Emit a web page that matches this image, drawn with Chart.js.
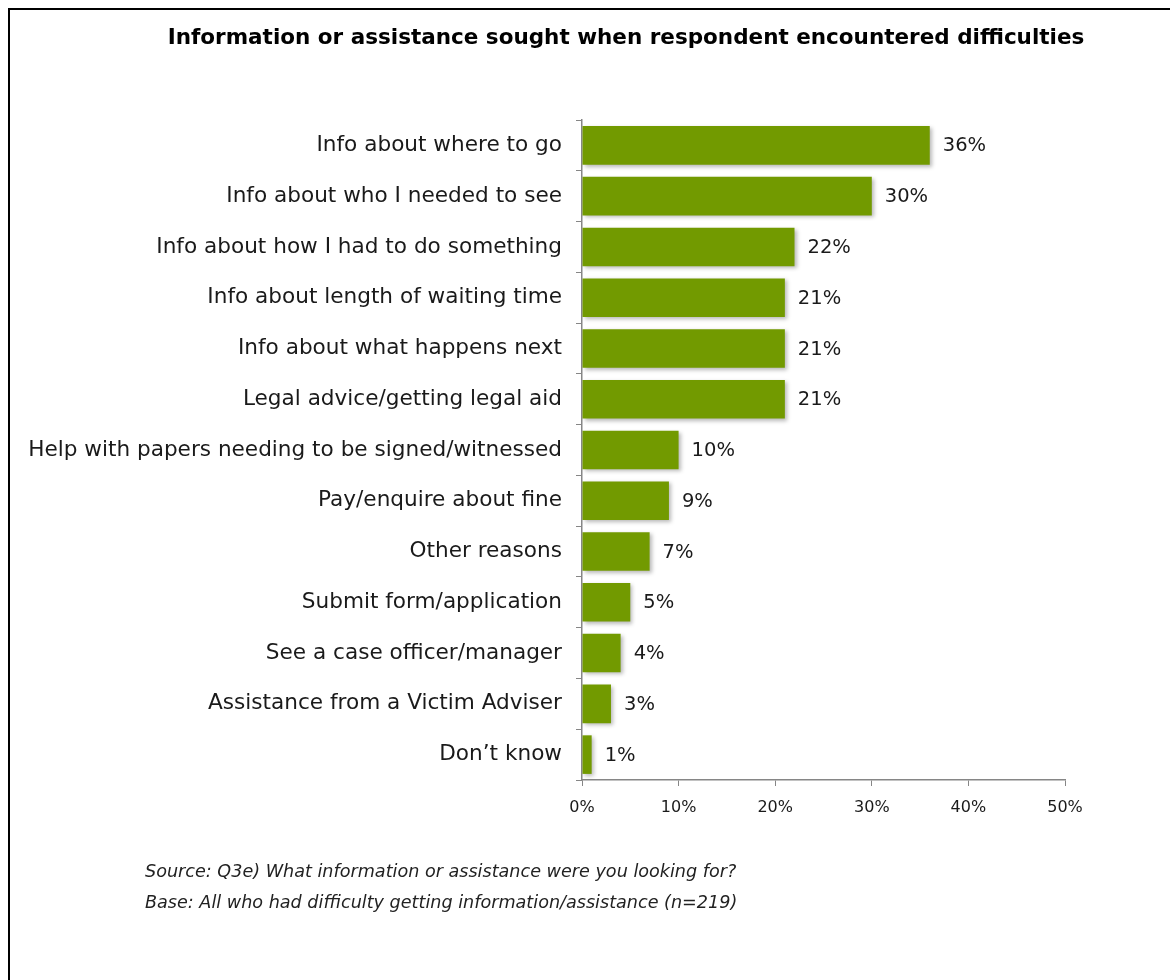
<!DOCTYPE html>
<html>
<head>
<meta charset="utf-8">
<script src="https://cdn.jsdelivr.net/npm/chart.js@4.4.1/dist/chart.umd.min.js"></script>
<style>
  html, body { margin: 0; padding: 0; background: #fff; }
  #page { position: relative; width: 1170px; height: 980px; overflow: hidden; background: #fff; }
  #frame { position: absolute; left: 8px; top: 8px; right: -10px; bottom: -10px; border-top: 2px solid #000; border-left: 2px solid #000; }
  #title { position: absolute; left: 126px; width: 1000px; top: 24px; text-align: center;
           font-family: "DejaVu Sans", sans-serif; font-weight: bold; font-size: 21.5px; color: #000; }
  .note { position: absolute; left: 145px; font-family: "DejaVu Sans", sans-serif; font-style: italic; font-size: 17.6px; color: #222; }
  #chartBox { position: absolute; left: 0; top: 0; width: 1170px; height: 980px; }
</style>
</head>
<body>
<div id="page">
  <div id="chartBox"><canvas id="c" width="1170" height="980"></canvas></div>
  <div id="frame"></div>
  <div id="title">Information or assistance sought when respondent encountered difficulties</div>
  <div class="note" style="top:861px">Source: Q3e) What information or assistance were you looking for?</div>
  <div class="note" style="top:892px">Base: All who had difficulty getting information/assistance (n=219)</div>
</div>
<script>
// Categories, top to bottom
const categories = [
  "Info about where to go",
  "Info about who I needed to see",
  "Info about how I had to do something",
  "Info about length of waiting time",
  "Info about what happens next",
  "Legal advice/getting legal aid",
  "Help with papers needing to be signed/witnessed",
  "Pay/enquire about fine",
  "Other reasons",
  "Submit form/application",
  "See a case officer/manager",
  "Assistance from a Victim Adviser",
  "Don\u2019t know"
];
// Share of respondents (%)
const percentages = [36, 30, 22, 21, 21, 21, 10, 9, 7, 5, 4, 3, 1];
// X axis tick values (%)
const xTicks = [0, 10, 20, 30, 40, 50];

const labelFont = '"DejaVu Sans", sans-serif';
const axisGray = '#868686';

// Soft drop shadow behind the bars
const barShadow = {
  id: 'barShadow',
  beforeDatasetDraw(chart) {
    const ctx = chart.ctx;
    ctx.save();
    ctx.shadowColor = 'rgba(0,0,0,0.28)';
    ctx.shadowBlur = 4;
    ctx.shadowOffsetX = 2;
    ctx.shadowOffsetY = 2;
  },
  afterDatasetDraw(chart) {
    chart.ctx.restore();
  }
};

// Value labels to the right of each bar
const valueLabels = {
  id: 'valueLabels',
  afterDatasetsDraw(chart) {
    const ctx = chart.ctx;
    const meta = chart.getDatasetMeta(0);
    ctx.save();
    ctx.font = '19.5px ' + labelFont;
    ctx.fillStyle = '#1a1a1a';
    ctx.textAlign = 'left';
    ctx.textBaseline = 'middle';
    meta.data.forEach((bar, i) => {
      ctx.fillText(percentages[i] + '%', bar.x + 13, bar.y + 1);
    });
    ctx.restore();
  }
};

new Chart(document.getElementById('c'), {
  type: 'bar',
  data: {
    labels: categories,
    datasets: [{
      data: percentages,
      backgroundColor: '#729a00',
      borderWidth: 0,
      barPercentage: 0.76,
      categoryPercentage: 1.0
    }]
  },
  options: {
    indexAxis: 'y',
    responsive: false,
    animation: false,
    devicePixelRatio: 1,
    layout: { padding: { top: 120, right: 105, bottom: 140, left: 0 } },
    plugins: { legend: { display: false }, tooltip: { enabled: false } },
    scales: {
      x: {
        min: 0, max: 50,
        afterBuildTicks(scale) { scale.ticks = xTicks.map(v => ({ value: v })); },
        afterFit(scale) { scale.height = 60; },
        grid: { drawOnChartArea: false, drawTicks: true, tickLength: 6, color: axisGray },
        border: { color: axisGray, width: 1.5 },
        ticks: {
          padding: 12,
          color: '#1a1a1a',
          font: { family: labelFont, size: 16 },
          callback: v => v + '%'
        }
      },
      y: {
        afterFit(scale) { scale.width = 582; },
        grid: { drawOnChartArea: false, drawTicks: true, tickLength: 6, color: axisGray, offset: true },
        border: { color: axisGray, width: 1.5 },
        ticks: {
          padding: 14,
          color: '#1a1a1a',
          font: { family: labelFont, size: 21.6 }
        }
      }
    }
  },
  plugins: [barShadow, valueLabels]
});
</script>
</body>
</html>
